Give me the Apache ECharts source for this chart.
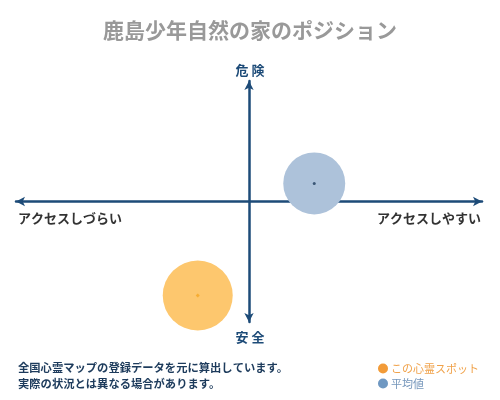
<!DOCTYPE html>
<html><head><meta charset="utf-8">
<script src="https://cdn.jsdelivr.net/npm/echarts@6/dist/echarts.min.js"></script>
<style>html,body{margin:0;padding:0;background:#fff}#c{width:500px;height:400px}</style>
</head><body><div id="c"></div>
<script>
var titleText = '鹿島少年自然の家のポジション';
var axisTop = '危 険';
var axisBottom = '安 全';
var axisLeft = 'アクセスしづらい';
var axisRight = 'アクセスしやすい';
var notes = ['全国心霊マップの登録データを元に算出しています。', '実際の状況とは異なる場合があります。'];
var seriesNames = ['この心霊スポット', '平均値'];
var spotPoint = [-22, -78];
var avgPoint = [28, 15];
var spotSize = 70;
var avgSize = 62;

var font = '"Noto Sans CJK JP", sans-serif';
var navy = '#1d4b78';
var chart = echarts.init(document.getElementById('c'));
chart.setOption({
  animation: false,
  title: [
    {text: titleText, left: 'center', top: 15, textStyle: {fontFamily: font, fontSize: 21, fontWeight: 'bold', color: '#999'}},
    {text: axisTop, left: 'center', top: 59, textStyle: {fontFamily: font, fontSize: 13, fontWeight: 'bold', color: navy}},
    {text: axisBottom, left: 'center', top: 326, textStyle: {fontFamily: font, fontSize: 13, fontWeight: 'bold', color: navy}},
    {text: axisLeft, left: 13, top: 207, textStyle: {fontFamily: font, fontSize: 13, fontWeight: 'bold', color: '#333'}},
    {text: axisRight, right: 14, top: 207, textStyle: {fontFamily: font, fontSize: 13, fontWeight: 'bold', color: '#333'}},
    {text: notes[0], left: 13, top: 357, textStyle: {fontFamily: font, fontSize: 11.3, fontWeight: 'bold', color: '#1d3b5c'}},
    {text: notes[1], left: 13, top: 373, textStyle: {fontFamily: font, fontSize: 11.3, fontWeight: 'bold', color: '#1d3b5c'}}
  ],
  legend: {
    orient: 'vertical', left: 373, top: 358, itemGap: 4, itemWidth: 10, itemHeight: 10, icon: 'circle',
    textStyle: {fontFamily: font, fontSize: 11, padding: [0, 0, 0, -2]},
    data: [
      {name: seriesNames[0], itemStyle: {color: '#f29b38'}, textStyle: {color: '#f0a24a'}},
      {name: seriesNames[1], itemStyle: {color: '#6f98c2'}, textStyle: {color: '#7596bb'}}
    ]
  },
  grid: {left: 16, right: 18, top: 81, bottom: 78},
  xAxis: {
    type: 'value', min: -100, max: 100,
    axisLine: {onZero: true, symbol: ['arrow', 'arrow'], symbolSize: [7, 9], lineStyle: {color: navy, width: 2.5}},
    axisTick: {show: false}, axisLabel: {show: false}, splitLine: {show: false}
  },
  yAxis: {
    type: 'value', min: -100, max: 100,
    axisLine: {onZero: true, symbol: ['arrow', 'arrow'], symbolSize: [7, 9], lineStyle: {color: navy, width: 2.5}},
    axisTick: {show: false}, axisLabel: {show: false}, splitLine: {show: false}
  },
  series: [
    {name: seriesNames[1], type: 'scatter', data: [avgPoint], symbolSize: avgSize, itemStyle: {color: '#adc2da', opacity: 1}, z: 1},
    {name: seriesNames[0], type: 'scatter', data: [spotPoint], symbolSize: spotSize, itemStyle: {color: '#fdc76e', opacity: 1}, z: 1},
    {name: 'avgDot', type: 'scatter', data: [avgPoint], symbolSize: 3, itemStyle: {color: '#1d3b5c'}, z: 5},
    {name: 'spotDot', type: 'scatter', data: [spotPoint], symbolSize: 4, symbol: 'diamond', itemStyle: {color: '#f5a623'}, z: 5}
  ]
});
</script></body></html>
